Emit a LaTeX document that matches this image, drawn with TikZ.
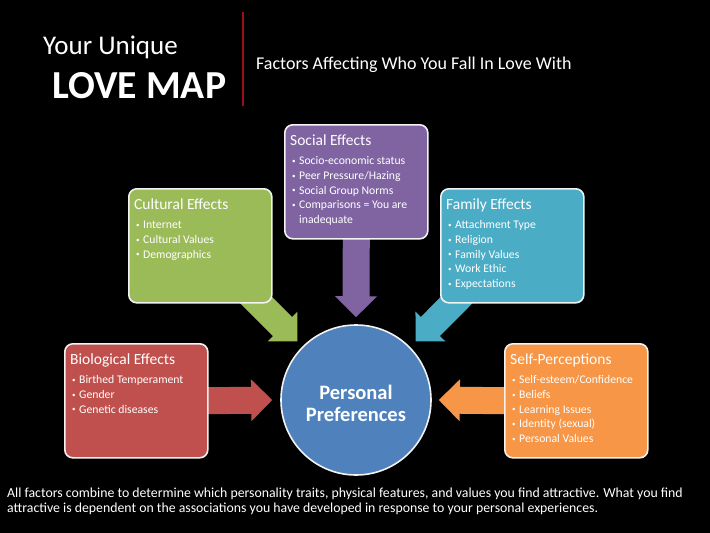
\documentclass[tikz,border=0pt]{standalone}
\usepackage{fontspec}
\setmainfont{Carlito}
\usetikzlibrary{calc}
\definecolor{cpurple}{HTML}{8064A2}
\definecolor{cgreen}{HTML}{9BBB59}
\definecolor{cteal}{HTML}{4BACC6}
\definecolor{cred}{HTML}{C0504D}
\definecolor{corange}{HTML}{F79646}
\definecolor{cblue}{HTML}{4F81BD}
\definecolor{cline}{HTML}{A00D1A}
\definecolor{cedge}{HTML}{F2F2F2}

\pgfdeclarelayer{bglayer}
\pgfdeclarelayer{arrlayer}
\pgfsetlayers{bglayer,arrlayer,main}

\newcommand{\itm}[1]{\par\hangindent=9pt\hangafter=1\noindent\makebox[9pt][l]{\hspace{2pt}\raisebox{1.3pt}{\fontsize{7}{7}\selectfont\textbullet}}#1}
\newcommand{\boxtxt}[2]{\parbox[t]{132pt}{\raggedright\fontsize{15.5}{15.5}\selectfont #1\par\vspace{4.2pt}\fontsize{11.7}{14.8}\selectfont #2}}
\newcommand{\blockarrow}[3]{%
  \coordinate (#2h) at ($(#3)!21pt!(#2)$);
  \fill[#1] ($(#2)!13.5pt!90:(#3)$) -- ($(#2h)!13.5pt!90:(#3)$) -- ($(#2h)!21pt!90:(#3)$) -- (#3)
    -- ($(#2h)!21pt!-90:(#3)$) -- ($(#2h)!13.5pt!-90:(#3)$) -- ($(#2)!13.5pt!-90:(#3)$) -- cycle;}

\tikzset{
  box/.style={draw=cedge, line width=1.6pt, rounded corners=8pt, minimum width=143pt,
    minimum height=114pt, inner sep=0pt, anchor=north west},
  txt/.style={anchor=base west, inner sep=0pt, text=white},
}

\begin{document}
\begin{tikzpicture}[x=1pt,y=-1pt]
\begin{pgfonlayer}{bglayer}
\fill[black] (0,0) rectangle (710,533);
\end{pgfonlayer}
\useasboundingbox (0,0) rectangle (710,533);

% header
\node[txt, font=\fontsize{27}{27}\selectfont] (t1) at (43,54) {Your Unique};
\node[txt, font=\fontsize{39.7}{39.7}\selectfont\bfseries] (t2) at (52,98) {LOVE MAP};
\draw[cline, line width=2pt] (243,12) -- (243,106);
\node[txt, font=\fontsize{18}{18}\selectfont] (t3) at (256,69) {Factors Affecting Who You Fall In Love With};

% boxes
\node[box, fill=cpurple] (soc) at (284,124) {};
\node[box, fill=cgreen] (cul) at (128,188) {};
\node[box, fill=cteal] (fam) at (440,188) {};
\node[box, fill=cred] (bio) at (64,343) {};
\node[box, fill=corange] (sel) at (504,343) {};

\node[txt] (socT) at ([shift={(6,21.5)}]soc.north west) {\boxtxt{Social Effects}{%
  \itm{Socio-economic status}\itm{Peer Pressure/Hazing}\itm{Social Group Norms}%
  \itm{Comparisons = You are\newline inadequate}}};
\node[txt] (culT) at ([shift={(6,21.5)}]cul.north west) {\boxtxt{Cultural Effects}{%
  \itm{Internet}\itm{Cultural Values}\itm{Demographics}}};
\node[txt] (famT) at ([shift={(6,21.5)}]fam.north west) {\boxtxt{Family Effects}{%
  \itm{Attachment Type}\itm{Religion}\itm{Family Values}\itm{Work Ethic}\itm{Expectations}}};
\node[txt] (bioT) at ([shift={(6,21.5)}]bio.north west) {\boxtxt{Biological Effects}{%
  \itm{Birthed Temperament}\itm{Gender}\itm{Genetic diseases}}};
\node[txt] (selT) at ([shift={(6,21.5)}]sel.north west) {\boxtxt{Self-Perceptions}{%
  \itm{Self-esteem/Confidence}\itm{Beliefs}\itm{Learning Issues}\itm{Identity (sexual)}\itm{Personal Values}}};

% center
\node[circle, draw=cedge, line width=1.6pt, fill=cblue, minimum size=150pt, inner sep=0pt] (pp) at (356,400) {};
\node[text=white, align=center, inner sep=0pt, font=\fontsize{20.5}{22}\selectfont\bfseries] (pptxt) at (356,403) {Personal\\Preferences};

% arrow anchor points
\coordinate (socA) at ($(soc.south)+(0,-6)$);
\coordinate (socB) at ($(pp.north)+(0,-7)$);
\coordinate (culA) at ($(cul.south east)+(-26,-13)$);
\coordinate (culB) at ($(pp.north west)+(-5,-5)$);
\coordinate (famA) at ($(fam.south west)+(26,-13)$);
\coordinate (famB) at ($(pp.north east)+(6,-5)$);
\coordinate (bioA) at ($(bio.east)+(-6,0)$);
\coordinate (bioB) at ($(pp.west)+(-8,0)$);
\coordinate (selA) at ($(sel.west)+(6,0)$);
\coordinate (selB) at ($(pp.east)+(7,0)$);

\begin{pgfonlayer}{arrlayer}
\blockarrow{cpurple}{socA}{socB}
\blockarrow{cgreen}{culA}{culB}
\blockarrow{cteal}{famA}{famB}
\blockarrow{cred}{bioA}{bioB}
\blockarrow{corange}{selA}{selB}
\end{pgfonlayer}

% footer
\node[txt] (foot) at (7,497)
  {\parbox[t]{700pt}{\fontsize{13.8}{15.5}\selectfont All factors combine to determine which personality traits, physical features, and values you find attractive. What you find\\
   attractive is dependent on the associations you have developed in response to your personal experiences.}};
\end{tikzpicture}
\end{document}
